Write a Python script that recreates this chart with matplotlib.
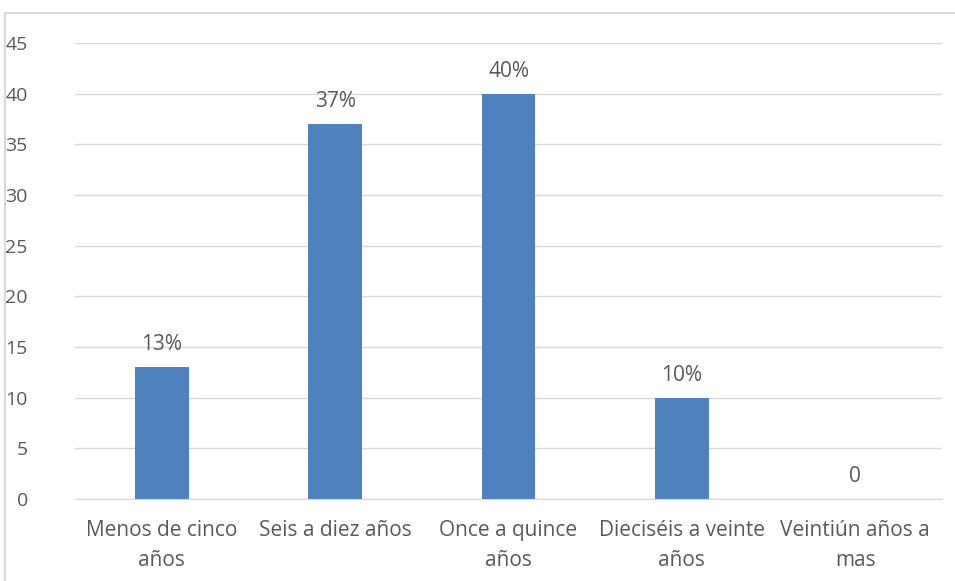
import matplotlib.pyplot as plt
from matplotlib.patches import Rectangle

categories = ["Menos de cinco\naños", "Seis a diez años", "Once a quince\naños",
              "Dieciséis a veinte\naños", "Veintiún años a\nmas"]
values = [13, 37, 40, 10, 0]
value_labels = ["13%", "37%", "40%", "10%", "0"]

plt.rcParams['font.family'] = ['Open Sans', 'DejaVu Sans']
text_color = '#595959'
fs = 15

fig = plt.figure(figsize=(9.55, 5.81), dpi=100)
ax = fig.add_axes([75 / 955, 1 - 499 / 581, 867 / 955, 456 / 581])

x = range(len(values))
bars = ax.bar(x, values, width=0.31, color='#4F81BD', zorder=3)
for b, lab in zip(bars, value_labels):
    ax.annotate(lab, (b.get_x() + b.get_width() / 2, b.get_height()),
                xytext=(0, 8.5), textcoords='offset points',
                ha='center', va='bottom', fontsize=fs, color=text_color)

ax.set_xlim(-0.5, len(values) - 0.5)
ax.set_ylim(0, 45)
ax.set_yticks(range(0, 46, 5))
ax.set_xticks(list(x))
ax.set_xticklabels(categories, fontsize=fs, color=text_color, linespacing=1.55)
ax.tick_params(axis='y', labelsize=14, labelcolor=text_color, length=0, pad=34)
ax.tick_params(axis='x', length=0, pad=15)
ax.yaxis.grid(True, color='#D9D9D9', linewidth=1, zorder=0)
for s in ['top', 'right', 'left']:
    ax.spines[s].set_visible(False)
ax.spines['bottom'].set_color('#D9D9D9')

# chart border
fig.patches.append(Rectangle((5 / 955, -0.01), 1.0, 1 - 13 / 581 + 0.01,
                             transform=fig.transFigure, fill=False,
                             edgecolor='#D9D9D9', linewidth=1.5))

fig.savefig('out.png', dpi=100)
